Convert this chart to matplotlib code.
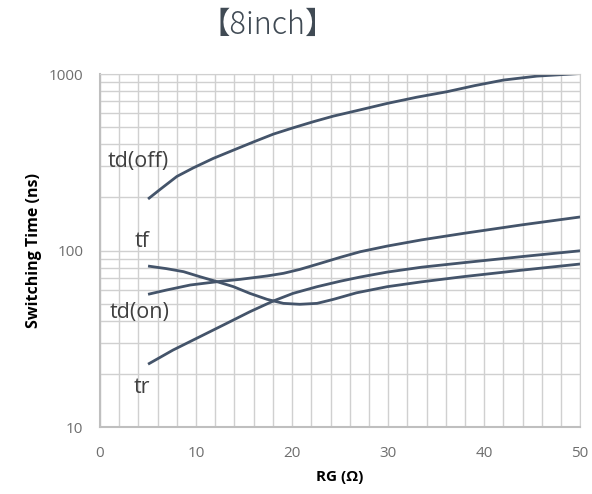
import numpy as np
import matplotlib.pyplot as plt

# values (RG in ohm, time in ns)
rg_off = [5.0, 6.25, 8.0, 9.7, 11.8, 13.9, 16.0, 18.05, 20.1, 22.2, 24.3, 26.7, 29.9, 33.0, 36.1, 39.0, 42.0, 45.5, 49.0, 50.0]
td_off = [196, 222, 263, 294, 333, 371, 413, 457, 496, 537, 578, 620, 682, 740, 794, 860, 925, 974, 1000, 1008]

rg_tf = [5.0, 6.9, 8.7, 10.4, 12.2, 13.9, 15.6, 17.4, 19.1, 20.8, 22.6, 24.3, 26.7, 29.9, 33.5, 37.8, 44.0, 50.0]
tf = [81.7, 79.0, 75.9, 71.1, 66.6, 62.4, 57.2, 52.9, 50.2, 49.6, 50.2, 52.9, 57.6, 62.4, 66.5, 71.1, 77.5, 83.9]

rg_on = [5.0, 6.9, 9.4, 12.2, 14.6, 17.4, 19.1, 20.8, 22.9, 25.0, 27.1, 29.9, 33.5, 37.8, 44.0, 50.0]
td_on = [56.5, 59.7, 63.8, 66.6, 68.7, 71.8, 74.3, 78.2, 84.5, 91.5, 98.5, 106, 115, 125, 140, 155]

rg_tr = [5.0, 7.6, 10.4, 13.2, 15.6, 18.05, 20.1, 22.6, 25.0, 27.1, 29.9, 33.5, 37.8, 44.0, 50.0]
tr = [22.7, 27.3, 32.5, 38.7, 45.0, 51.8, 57.2, 62.4, 67.0, 70.8, 75.5, 80.5, 85.3, 92.5, 99.7]

labels = ["td(off)", "tf", "td(on)", "tr"]
label_pos = [(0.83, 318), (3.6, 112), (1.0, 44.3), (3.45, 16.7)]

line_color = "#44546A"
text_color = "#404040"
grid_color = "#D0D0D0"

fig = plt.figure(figsize=(5.92, 4.94), dpi=100)
ax = fig.add_axes([0.169, 0.1356, 0.811, 0.7144])

for x, y in [(rg_off, td_off), (rg_tf, tf), (rg_on, td_on), (rg_tr, tr)]:
    ax.plot(x, y, color=line_color, lw=2.0, solid_capstyle="butt", solid_joinstyle="round")

ax.set_yscale("log")
ax.set_xlim(0, 50)
ax.set_ylim(10, 1000)
ax.set_xticks(range(0, 51, 10))
ax.set_xticks(range(0, 51, 2), minor=True)
ax.set_yticks([10, 100, 1000])
ax.set_yticklabels(["10", "100", "1000"])
ax.yaxis.set_minor_locator(plt.matplotlib.ticker.LogLocator(base=10, subs=np.arange(2, 10)))
ax.yaxis.set_minor_formatter(plt.NullFormatter())
ax.grid(True, which="both", color=grid_color, lw=1.0)
ax.set_axisbelow(True)
ax.tick_params(which="both", length=0, labelsize=11, colors="#6E6E6E")
ax.tick_params(axis="x", pad=14)
ax.tick_params(axis="y", pad=12)
for s in ["top", "right"]:
    ax.spines[s].set_color(grid_color)
for s in ["left", "bottom"]:
    ax.spines[s].set_color("#BFBFBF")
    ax.spines[s].set_linewidth(1.5)

for t in ax.get_xticklabels() + ax.get_yticklabels():
    t.set_family("Open Sans")

for lab, (x, y) in zip(labels, label_pos):
    ax.text(x, y, lab, color=text_color, fontsize=15.5, family="Open Sans", va="center", ha="left")

ax.set_xlabel("RG (Ω)", fontsize=11, fontweight="bold", family="Open Sans", color="black", labelpad=6)
ax.set_ylabel("Switching Time (ns)", fontsize=11.5, fontweight="bold", family="Open Sans", color="black", labelpad=5)

fig.text(267.5 / 592, 1 - 25 / 494, "【8inch】", ha="center", va="center", fontsize=22,
         fontweight="light", color="#404A54", family=["Noto Sans CJK JP", "DejaVu Sans"])

fig.savefig("out.png", dpi=100)
